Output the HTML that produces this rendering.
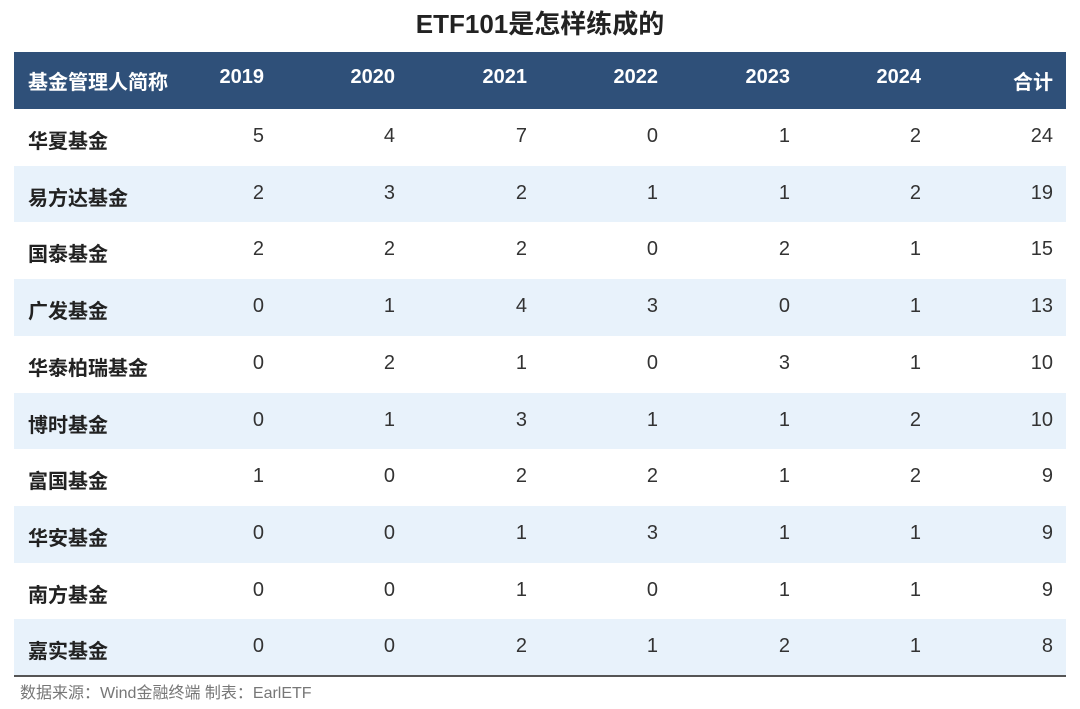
<!DOCTYPE html>
<html><head><meta charset="utf-8">
<style>
body{margin:0;width:1080px;height:709px;background:#fff;position:relative;overflow:hidden;font-family:"Liberation Sans","Noto Sans CJK SC",sans-serif;}
#title{position:absolute;left:0;width:1080px;top:4px;text-align:center;font-size:26px;font-weight:bold;color:#222;}
#hdr{position:absolute;left:14px;top:52px;width:1052px;height:57px;background:#2f5079;}
.row{position:absolute;left:14px;width:1052px;}
.cell{position:absolute;font-size:20px;color:#333;white-space:nowrap;}
.h{color:#fff;font-weight:bold;}
#bottom{position:absolute;left:14px;top:675px;width:1052px;height:2px;background:#555;}
#src{position:absolute;left:20px;top:679px;font-size:16px;color:#777;}
</style></head><body>
<div id="title">ETF101是怎样练成的</div>
<div id="hdr"></div>
<div id="tbl"></div>
<div id="bottom"></div>
<div id="src">数据来源：Wind金融终端 制表：EarlETF</div>
<script>
const headers=["基金管理人简称","2019","2020","2021","2022","2023","2024","合计"];
const names=["华夏基金","易方达基金","国泰基金","广发基金","华泰柏瑞基金","博时基金","富国基金","华安基金","南方基金","嘉实基金"];
const values=[[5,4,7,0,1,2,24],[2,3,2,1,1,2,19],[2,2,2,0,2,1,15],[0,1,4,3,0,1,13],[0,2,1,0,3,1,10],[0,1,3,1,1,2,10],[1,0,2,2,1,2,9],[0,0,1,3,1,1,9],[0,0,1,0,1,1,9],[0,0,2,1,2,1,8]];
const rights=[264,395,527,658,790,921,1053];
const body=document.body;
function mk(txt,y,right,left,cls){
  const d=document.createElement('div');
  d.className='cell '+(cls||'');
  d.textContent=txt;
  if(left!==null){d.style.left=left+'px';}
  else{d.style.right=(1080-right)+'px';}
  d.style.top=y+'px';
  body.appendChild(d);
  return d;
}
headers.forEach((h,i)=>{
  const d=i===0?mk(h,66,0,28,'h'):mk(h,66,rights[i-1],null,'h');
  
  
});
const rh=56.7,top0=109;
names.forEach((n,r)=>{
  const y=top0+r*rh;
  const row=document.createElement('div');
  row.className='row';
  row.style.top=y+'px';row.style.height=rh+'px';
  row.style.background=r%2?'#e8f2fb':'#fff';
  
  
  body.insertBefore(row,document.getElementById('bottom'));
  const ty=y+16;
  const nd=mk(n,ty,0,28,'');
  nd.style.fontWeight='bold';nd.style.color='#222';
  
  
  values[r].forEach((v,c)=>{
    const d=mk(String(v),ty,rights[c],null,'');
    
    
  });
});
</script>
</body></html>
